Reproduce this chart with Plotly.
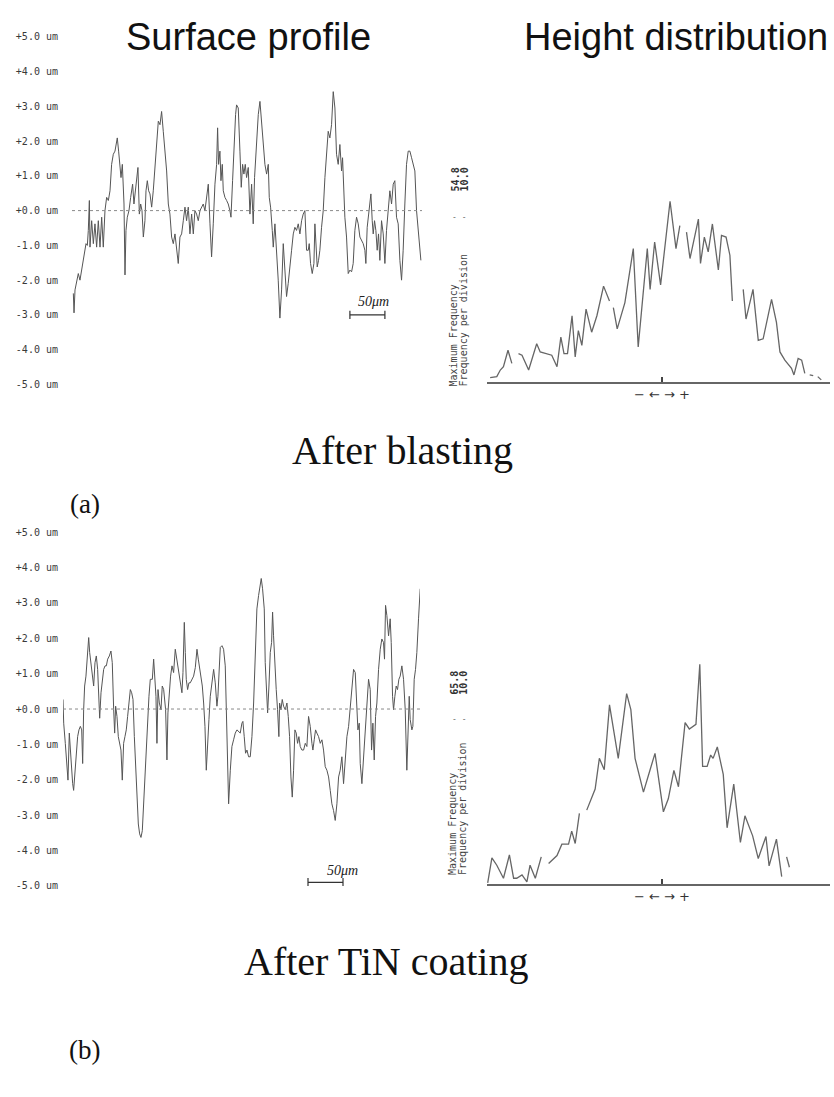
import plotly.graph_objects as go

W, H = 834, 1097
def px(x): return x / W
def py(y): return 1 - y / H

# ---------------- data ----------------
profile_ticks = [5, 4, 3, 2, 1, 0, -1, -2, -3, -4, -5]
profile_ticktext = [f"{v:+.1f} um" for v in profile_ticks]

# (a) After blasting: surface profile, distance (um) / height (um)
prof_a_x = [
    1.9, 2.9, 4.3, 6.7, 9.0, 11.4, 13.8, 17.1, 20.0, 21.9,
    23.3, 24.8, 25.7, 28.1, 30.5, 32.8, 35.2, 37.6, 40.0, 42.4,
    44.7, 47.1, 49.5, 51.9, 54.3, 56.6, 59.0, 61.4, 64.7, 66.6,
    68.5, 70.0, 71.9, 74.3, 75.7, 77.1, 79.0, 81.4, 83.8, 86.6,
    88.5, 90.4, 92.3, 94.2, 96.2, 98.1, 100.0, 101.9, 104.2, 105.7,
    107.6, 109.5, 111.4, 113.8, 116.1, 118.5, 120.9, 123.3, 125.7, 128.0,
    130.4, 132.8, 135.2, 137.6, 139.9, 142.3, 144.7, 147.1, 149.5, 151.8,
    154.2, 156.6, 159.0, 161.4, 163.7, 166.1, 168.5, 170.9, 173.3, 175.6,
    178.0, 180.4, 182.8, 185.2, 187.5, 189.9, 192.3, 194.7, 197.1, 199.4,
    201.8, 204.2, 206.6, 208.0, 209.4, 211.3, 212.8, 214.7, 216.1, 218.5,
    220.9, 223.2, 225.6, 227.1, 229.4, 231.3, 233.7, 235.1, 237.5, 239.9,
    241.8, 243.7, 245.6, 247.5, 249.4, 251.8, 254.2, 256.6, 258.9, 260.8,
    263.7, 266.1, 268.5, 270.8, 273.2, 275.6, 278.0, 280.4, 281.8, 283.7,
    286.1, 287.5, 289.9, 292.3, 294.6, 297.0, 299.4, 301.8, 304.2, 306.5,
    308.9, 311.3, 313.7, 316.1, 318.4, 320.8, 323.2, 325.6, 328.0, 330.3,
    332.7, 335.1, 337.5, 338.9, 340.8, 343.2, 345.6, 347.0, 348.4, 350.3,
    352.2, 354.1, 356.5, 358.9, 361.3, 363.7, 366.0, 368.4, 370.8, 373.2,
    375.6, 377.9, 380.3, 382.7, 385.1, 386.5, 388.4, 389.8, 392.2, 394.6,
    397.0, 399.4, 401.7, 404.1, 406.5, 408.9, 411.3, 413.6, 416.0, 418.4,
    419.8, 421.7, 424.6, 427.0, 428.9, 430.3, 432.2, 434.1, 436.0, 437.9,
    439.8, 442.2, 444.6, 447.0, 449.3, 451.7, 454.1, 456.5, 458.9, 461.2,
    463.6, 466.0, 468.4, 470.8, 473.1, 475.5, 477.9, 480.3, 482.7, 485.1,
    487.4, 489.8, 492.2, 494.6, 497.0, 498.4,
]
prof_a_h = [
    -2.38, -2.94, -2.28, -2.00, -1.81, -2.00, -1.71, -1.24, -0.95, -1.00,
    -0.57, 0.29, -1.05, -0.29, -0.95, -0.38, -1.05, -0.29, -1.05, -0.19,
    -1.05, 0.00, 0.38, 0.29, 0.57, 1.33, 1.62, 1.71, 2.09, 1.71,
    1.14, 0.95, 1.33, 0.19, -1.85, -0.57, -0.19, 0.00, 0.38, 0.76,
    0.19, 0.57, 0.86, 1.24, -0.10, 0.19, 0.00, -0.76, -0.29, 0.57,
    0.86, 0.57, 0.48, 0.10, 0.57, 1.33, 2.09, 2.57, 2.47, 2.85,
    2.28, 1.81, 1.14, 0.19, -0.10, -0.76, -0.95, -0.67, -1.05, -1.52,
    -0.76, -0.67, -0.29, 0.10, -0.29, 0.10, -0.67, -0.10, -0.67, 0.00,
    -0.10, -0.29, 0.00, 0.10, 0.19, 0.00, 0.38, 0.76, -0.38, -1.33,
    -0.38, 0.76, 1.33, 2.38, 1.33, 1.71, 0.86, 1.33, 0.57, 0.38,
    0.29, 0.19, 0.00, -0.19, 0.86, 1.81, 2.76, 3.04, 2.95, 1.71,
    0.67, 1.33, 1.05, 1.33, 0.95, 1.24, -0.10, 0.76, -0.38, 0.95,
    1.90, 2.76, 3.14, 2.57, 2.00, 1.33, 1.05, 1.33, 0.38, 0.10,
    -0.57, -1.05, -0.38, -1.14, -2.00, -3.09, -2.28, -0.95, -1.90, -2.47,
    -2.09, -1.52, -1.14, -0.67, -0.48, -0.57, -0.38, -0.67, -0.29, -0.10,
    0.00, -1.14, -1.14, -0.95, -1.52, -1.81, -1.52, -0.38, -0.95, -1.62,
    -1.43, -1.14, -0.48, 0.00, 0.95, 1.81, 2.28, 2.09, 2.47, 3.42,
    2.95, 1.62, 1.33, 1.90, 1.14, 1.52, 0.57, -0.19, -0.76, -1.81,
    -1.71, -1.76, -1.52, -0.57, -0.19, -0.38, -0.76, -0.86, -0.95, -1.14,
    -1.52, -0.48, 0.10, 0.48, -0.29, -0.67, -0.29, -0.57, -1.14, -0.67,
    -1.43, -0.29, -0.67, -1.52, -0.57, -0.10, 0.57, 0.19, 0.76, 0.86,
    -0.19, -0.38, -1.43, -2.00, -1.14, 0.19, 1.33, 1.71, 1.71, 1.52,
    1.33, 1.14, 0.00, -0.57, -0.95, -1.43,
]

# (b) After TiN coating: surface profile
prof_b_x = [
    0.0, 1.0, 3.3, 5.7, 7.1, 9.0, 10.5, 11.9, 13.8, 15.2,
    17.1, 19.0, 20.9, 22.8, 24.8, 26.7, 28.1, 29.5, 30.9, 32.8,
    34.3, 36.7, 38.1, 40.0, 41.9, 43.8, 45.7, 47.6, 49.5, 51.4,
    52.4, 54.3, 56.2, 58.1, 60.0, 61.9, 63.8, 66.2, 68.5, 70.4,
    72.4, 73.8, 75.2, 77.1, 79.0, 80.9, 82.8, 84.7, 86.6, 88.5,
    90.4, 92.3, 94.2, 96.2, 98.1, 100.0, 101.9, 103.8, 105.7, 107.6,
    109.5, 111.4, 113.3, 115.2, 117.1, 119.0, 120.9, 122.8, 124.7, 127.6,
    129.5, 130.9, 132.8, 134.2, 135.7, 137.6, 140.0, 141.8, 143.8, 146.6,
    148.5, 149.9, 151.8, 153.7, 155.7, 158.0, 160.4, 162.8, 165.2, 167.6,
    169.9, 171.4, 173.3, 174.7, 176.1, 178.0, 179.9, 181.8, 184.2, 186.6,
    189.0, 191.4, 193.3, 195.2, 197.1, 199.0, 200.9, 202.8, 204.7, 206.6,
    208.5, 210.4, 212.8, 215.2, 217.5, 219.9, 221.3, 223.2, 224.7, 227.1,
    229.4, 231.8, 234.2, 236.6, 239.0, 241.3, 243.7, 246.1, 248.5, 250.9,
    253.2, 255.6, 257.0, 258.9, 260.8, 262.8, 265.1, 267.5, 269.9, 272.3,
    274.7, 277.0, 279.4, 281.8, 283.2, 285.1, 287.5, 288.9, 290.4, 292.3,
    294.2, 296.1, 298.0, 299.4, 300.8, 302.7, 304.6, 306.5, 308.4, 309.4,
    311.3, 313.2, 315.1, 317.5, 319.9, 321.8, 323.7, 325.6, 327.5, 329.4,
    331.3, 333.2, 335.1, 337.0, 338.9, 341.3, 343.7, 346.1, 348.4, 350.8,
    353.2, 355.6, 357.0, 358.9, 360.8, 362.7, 365.1, 367.5, 369.9, 372.2,
    374.6, 377.0, 379.4, 381.8, 384.1, 386.5, 388.9, 391.3, 393.7, 396.0,
    398.4, 400.8, 403.2, 405.6, 408.0, 410.3, 412.7, 415.1, 417.5, 419.8,
    421.3, 423.2, 424.6, 427.0, 429.4, 431.7, 434.1, 436.5, 438.9, 440.8,
    442.7, 444.6, 446.5, 448.4, 450.8, 453.2, 455.5, 457.9, 459.3, 460.8,
    462.7, 465.1, 467.4, 468.9, 470.8, 472.2, 474.1, 476.0, 477.9, 479.8,
    481.7, 484.1, 486.5, 488.9, 491.2, 492.7, 494.6, 496.0, 498.4, 499.8,
    501.7, 503.6, 505.5, 507.9, 510.3,
]
prof_b_h = [
    0.27, -0.40, -0.97, -1.73, -2.01, -0.68, -1.16, -1.63, -2.11, -2.30,
    -1.73, -1.16, -0.78, -0.59, -0.49, -0.59, -1.54, -0.02, 0.65, 0.93,
    1.41, 2.02, 1.60, 1.31, 1.03, 0.65, 1.31, 1.50, 1.12, 0.36,
    -0.26, 0.46, 0.84, 1.12, 1.22, 1.22, 1.41, 1.50, 1.64, 1.31,
    -0.02, -0.68, 0.08, -0.21, -0.78, -0.97, -1.16, -2.01, -0.97, -0.78,
    -0.59, -0.21, 0.17, 0.55, 0.46, 0.27, -0.78, -1.73, -2.68, -3.25,
    -3.53, -3.63, -3.44, -2.68, -1.73, -0.78, -0.02, 0.36, 0.84, 0.84,
    1.41, 1.03, 0.36, -0.97, 0.55, 0.17, -0.02, 0.65, 0.55, -0.02,
    -1.44, -0.11, 0.55, 0.93, 1.22, 1.03, 1.69, 1.41, 1.12, 0.84,
    0.46, 1.03, 2.45, 1.60, 0.84, 0.55, 0.74, 0.74, 0.84, 0.93,
    1.17, 1.69, 1.41, 1.12, 0.93, 0.65, 0.17, -0.49, -1.73, -0.87,
    -0.30, 0.36, 0.74, 1.12, 0.74, 0.08, 0.36, 1.12, 1.74, 1.79,
    1.69, 1.22, -0.49, -2.68, -1.73, -1.06, -0.87, -0.68, -0.59, -0.64,
    -0.68, -0.40, -0.35, -0.78, -1.25, -1.16, -1.35, -1.35, -0.78, 0.17,
    1.60, 2.83, 3.21, 3.50, 3.69, 3.40, 2.83, 1.31, 0.55, -0.11,
    0.65, 1.60, 1.88, 2.74, 2.07, 1.12, 0.55, -0.02, -0.78, 0.17,
    -0.02, 0.27, 0.08, -0.02, 0.17, -0.21, -0.78, -1.92, -2.49, -1.73,
    -0.59, -0.68, -0.97, -0.78, -1.06, -1.16, -1.16, -0.97, -1.06, -0.21,
    -0.49, -0.97, -1.16, -0.87, -0.59, -0.68, -0.78, -0.97, -0.87, -1.16,
    -1.63, -1.73, -1.92, -2.30, -2.68, -2.87, -3.15, -2.68, -1.92, -1.73,
    -1.35, -2.11, -1.35, -0.78, -0.49, -0.02, 0.55, 1.12, 1.03, -0.02,
    -0.59, -0.40, -1.54, -2.11, -1.35, -0.59, 0.17, 0.84, 0.55, -1.16,
    -0.40, -1.44, -0.21, 0.17, 1.12, 1.69, 1.98, 1.88, 1.41, 2.93,
    2.64, 2.07, 2.55, 1.88, 0.36, -0.02, 0.36, 0.65, 0.55, 0.84,
    0.93, 1.22, 0.84, -0.02, -1.73, -0.59, 0.36, -0.30, -0.59, -0.49,
    0.84, 1.12, 1.60, 2.55, 3.40,
]

# Height distributions: height (um) / frequency (None = pen gap)
hist_a_h = [-4.91, -4.72, -4.62, -4.53, -4.40, -4.29, None, -4.10, -4.00, -3.81,
            -3.58, -3.48, -3.29, -3.15, -3.00, -2.89, -2.80, -2.70, -2.57, -2.48,
            -2.39, -2.29, -2.17, -2.01, -1.86, -1.67, -1.50, None, -1.39, -1.28,
            -1.06, -0.82, -0.68, -0.42, -0.34, -0.21, -0.04, 0.23, 0.40, 0.51,
            None, 0.70, 0.80, 1.04, 1.10, 1.21, 1.32, 1.44, 1.61, 1.70,
            1.83, 1.94, 2.01, None, 2.32, 2.40, 2.60, 2.75, 2.89, 3.13,
            3.27, 3.37, 3.51, 3.70, 3.77, 3.89, 3.99, 4.08, None, 4.22,
            4.32, None, 4.45, 4.55]
hist_a_f = [1.2, 1.5, 3.5, 4.5, 9.5, 5.5, None, 8.5, 8.0, 3.5,
            11.5, 9.0, 8.5, 8.0, 4.5, 13.5, 8.5, 8.5, 20.0, 7.5,
            15.5, 11.0, 22.0, 15.0, 20.0, 29.0, 24.5, None, 22.5, 16.0,
            24.0, 40.4, 10.5, 40.4, 28.0, 42.4, 29.4, 54.8, 40.4, 47.4,
            None, 45.4, 37.4, 49.4, 35.9, 43.9, 39.4, 47.9, 33.9, 44.4,
            43.9, 38.4, 24.5, None, 28.0, 19.0, 28.0, 12.5, 13.0, 25.0,
            18.0, 9.0, 6.5, 4.0, 2.0, 7.0, 6.5, 2.5, None, 2.0,
            1.8, None, 1.5, 0.5]

hist_b_h = [-4.98, -4.86, -4.72, -4.53, -4.36, -4.24, -4.15, -4.00, -3.86, -3.77,
            -3.62, -3.45, None, -3.24, -3.00, -2.86, -2.67, -2.58, -2.48, -2.36,
            None, -2.15, -1.91, -1.79, -1.65, -1.50, -1.25, -1.01, -0.89, -0.77,
            -0.53, -0.34, -0.20, 0.04, 0.18, 0.34, 0.47, 0.66, 0.78, 0.97,
            1.08, 1.16, 1.29, 1.39, 1.46, 1.58, 1.75, 1.86, 2.05, 2.24,
            2.37, 2.59, 2.75, 2.97, 3.06, 3.27, 3.42, None, 3.56, 3.64]
hist_b_f = [0.3, 7.8, 5.6, 1.7, 8.7, 1.7, 1.7, 2.7, 0.6, 5.6,
            1.7, 8.1, None, 6.1, 8.5, 11.9, 11.9, 15.8, 12.1, 21.1,
            None, 22.1, 28.4, 37.6, 34.2, 53.6, 37.6, 57.0, 52.2, 37.6,
            27.5, 34.2, 39.1, 21.6, 25.5, 34.0, 29.1, 48.3, 46.4, 47.8,
            65.8, 35.2, 35.2, 38.6, 37.6, 41.0, 32.8, 16.8, 29.9, 12.4,
            20.4, 14.4, 7.6, 14.2, 5.4, 13.4, 2.2, None, 8.1, 5.0]

max_freq_a, max_freq_b, per_div = "54.8", "65.8", "10.0"
scale_bar_um = 50

# ---------------- figure ----------------
PROF_COL = "#555555"
HIST_COL = "#666666"
TICK_FONT = dict(family="DejaVu Sans Mono", size=10, color="#3a3a3a")

fig = go.Figure()
fig.add_trace(go.Scatter(x=prof_a_x, y=prof_a_h, xaxis="x", yaxis="y", mode="lines",
                         line=dict(color=PROF_COL, width=1)))
fig.add_trace(go.Scatter(x=hist_a_h, y=hist_a_f, xaxis="x2", yaxis="y2", mode="lines",
                         line=dict(color=HIST_COL, width=1.3)))
fig.add_trace(go.Scatter(x=prof_b_x, y=prof_b_h, xaxis="x3", yaxis="y3", mode="lines",
                         line=dict(color=PROF_COL, width=1)))
fig.add_trace(go.Scatter(x=hist_b_h, y=hist_b_f, xaxis="x4", yaxis="y4", mode="lines",
                         line=dict(color=HIST_COL, width=1.3)))

def prof_y(dom_top, dom_bot):
    return dict(domain=[py(dom_bot), py(dom_top)], range=[-5, 5], anchor="free",
                position=px(58), tickvals=profile_ticks, ticktext=profile_ticktext,
                tickfont=TICK_FONT, ticks="", showgrid=False, zeroline=False,
                showline=False)

def hist_x(anchor):
    return dict(domain=[px(487), px(830)], range=[-5, 4.8], anchor=anchor,
                showline=True, linecolor="#666", linewidth=1.5, showgrid=False,
                zeroline=False, tickvals=[0], ticktext=["− ← → +"], ticks="inside",
                ticklen=5, tickwidth=2, tickcolor="#444",
                tickfont=dict(family="DejaVu Sans", size=13, color="#333"))

fig.update_layout(
    width=W, height=H, margin=dict(l=0, r=0, t=0, b=0),
    paper_bgcolor="white", plot_bgcolor="rgba(0,0,0,0)", showlegend=False,
    xaxis=dict(domain=[px(72), px(422)], range=[0, 500], visible=False, anchor="y"),
    yaxis=prof_y(32, 383),
    xaxis2=hist_x("y2"),
    yaxis2=dict(domain=[py(380), py(380 - 62 * 3.32)], range=[0, 62], visible=False),
    xaxis3=dict(domain=[px(63), px(420)], range=[0, 510], visible=False, anchor="y3"),
    yaxis3=prof_y(532, 889),
    xaxis4=hist_x("y4"),
    yaxis4=dict(domain=[py(887), py(887 - 72 * 3.37)], range=[0, 72], visible=False),
)

# zero reference lines of the profiles
for xr, yr in (("x", "y"), ("x3", "y3")):
    fig.add_shape(type="line", xref=f"{xr} domain", yref=yr, x0=0, x1=1, y0=0, y1=0,
                  line=dict(color="#8a8a8a", width=1, dash="dot"))

# 50 um scale bars
def scale_bar(xr, yr, x0, yb, ytxt, xtxt):
    fig.add_shape(type="line", xref=xr, yref=yr, x0=x0, x1=x0 + scale_bar_um, y0=yb, y1=yb,
                  line=dict(color="#333", width=1.2))
    for xe in (x0, x0 + scale_bar_um):
        fig.add_shape(type="line", xref=xr, yref=yr, x0=xe, x1=xe, y0=yb - 0.12, y1=yb + 0.12,
                      line=dict(color="#333", width=1.2))
    fig.add_annotation(xref=xr, yref=yr, x=xtxt, y=ytxt, text="<i>50μm</i>", showarrow=False,
                       font=dict(family="Liberation Serif", size=14, color="#222"))

scale_bar("x", "y", 397, -3.0, -2.62, 431)
scale_bar("x3", "y3", 350, -4.9, -4.57, 399)

def ann(x, y, text, size, family="Liberation Sans", color="#111", angle=0,
        xanchor="center", yanchor="middle"):
    fig.add_annotation(xref="paper", yref="paper", x=px(x), y=py(y), text=text,
                       showarrow=False, textangle=angle, xanchor=xanchor, yanchor=yanchor,
                       font=dict(family=family, size=size, color=color))

# titles
ann(248, 32, "Surface profile", 38)
ann(676, 32, "Height distribution", 38)
ann(402, 450, "After blasting", 40, family="Liberation Serif")
ann(85, 504, "(a)", 27, family="Liberation Serif")
ann(386, 965, "After TiN coating", 40, family="Liberation Serif")
ann(84, 1055, "(b)", 27, family="Liberation Serif")

# histogram side labels
MONO = "DejaVu Sans Mono"
for base, mf, numc, dash_y in ((387, max_freq_a, 176, 214), (880, max_freq_b, 684, 721)):
    ann(453, base, "Maximum Frequency", 10, family=MONO, color="#444", angle=-90, yanchor="bottom")
    ann(463, base, "Frequency per division", 10, family=MONO, color="#444", angle=-90, yanchor="bottom")
    ann(455, numc, f"<b>{mf}</b>", 10, family=MONO, color="#333", angle=-90)
    ann(464, numc, f"<b>{per_div}</b>", 10, family=MONO, color="#333", angle=-90)
    ann(459, dash_y, "- -", 8, family=MONO, color="#666")

fig.write_html("out.html")
